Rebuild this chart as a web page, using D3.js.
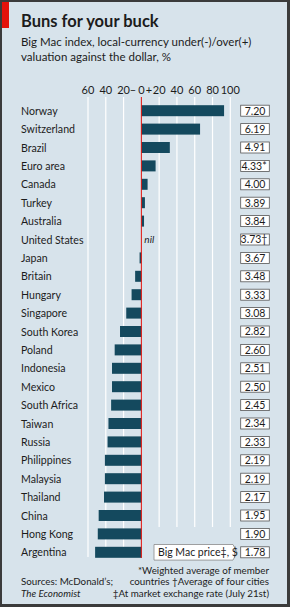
<!DOCTYPE html>
<html>
<head>
<meta charset="utf-8">
<script src="https://cdn.jsdelivr.net/npm/d3@7"></script>
<style>
  html, body { margin: 0; padding: 0; background: #fff; }
  svg { display: block; font-family: Lato, "Open Sans", sans-serif; }
</style>
</head>
<body>
<div id="chart"></div>
<script>
// Big Mac index, July 2011
const countries = ["Norway", "Switzerland", "Brazil", "Euro area", "Canada", "Turkey", "Australia",
    "United States", "Japan", "Britain", "Hungary", "Singapore", "South Korea", "Poland", "Indonesia",
    "Mexico", "South Africa", "Taiwan", "Russia", "Philippines", "Malaysia", "Thailand", "China",
    "Hong Kong", "Argentina"];
const valuation = [93, 66, 32, 16, 7, 4, 3, 0, -2, -7, -11, -17, -24, -30, -33, -33, -34, -37, -38,
    -41, -41, -42, -48, -49, -52];
const prices = ["7.20", "6.19", "4.91", "4.33*", "4.00", "3.89", "3.84", "3.73†", "3.67", "3.48", "3.33",
    "3.08", "2.82", "2.60", "2.51", "2.50", "2.45", "2.34", "2.33", "2.19", "2.19", "2.17", "1.95",
    "1.90", "1.78"];
const ticks = [-60, -40, -20, 0, 20, 40, 60, 80, 100];

const W = 290, H = 607;
const ink = "#1c1c1c";

const svg = d3.select("#chart").append("svg")
    .attr("width", W)
    .attr("height", H);

// frame
svg.append("rect").attr("width", W).attr("height", H).attr("fill", "#3b3b3b");
svg.append("rect").attr("x", 2).attr("y", 2).attr("width", W - 5).attr("height", H - 5)
    .attr("fill", "#d7e3eb");
svg.append("rect").attr("x", 2).attr("y", 2).attr("width", 7).attr("height", 26)
    .attr("fill", "#e3120b");

svg.append("text")
    .attr("x", 21).attr("y", 27)
    .attr("font-size", "16.5px").attr("font-weight", "bold")
    .attr("fill", ink)
    .text("Buns for your buck");

svg.append("text")
    .attr("x", 21).attr("y", 46)
    .attr("font-size", "11.5px").attr("fill", ink)
    .selectAll("tspan")
    .data(["Big Mac index, local-currency under(-)/over(+)", "valuation against the dollar, %"])
    .join("tspan")
    .attr("x", 21)
    .attr("dy", (d, i) => i ? 14.5 : 0)
    .text(d => d);

const x = d3.scaleLinear().domain([-60, 100]).range([88, 230.3]);
const y = d3.scaleBand().domain(countries).range([101.5, 561.5]);
const barH = 11;

// gridlines
svg.selectAll(".grid")
    .data(ticks.filter(t => t !== 0))
    .join("line")
    .attr("class", "grid")
    .attr("x1", d => x(d)).attr("x2", d => x(d))
    .attr("y1", 97)
    .attr("y2", d => d > 0 ? 527 : 557)
    .attr("stroke", "#fff")
    .attr("stroke-width", 1.2);

// tick labels
svg.append("g")
    .attr("font-size", "11px").attr("fill", ink).attr("text-anchor", "middle")
    .selectAll("text")
    .data(ticks)
    .join("text")
    .attr("x", d => x(d))
    .attr("y", 94)
    .text(d => Math.abs(d));
svg.append("text").attr("x", x(0) - 8.5).attr("y", 94).attr("font-size", "11px")
    .attr("text-anchor", "middle").attr("fill", ink).text("–");
svg.append("text").attr("x", x(0) + 7.5).attr("y", 94).attr("font-size", "11px")
    .attr("text-anchor", "middle").attr("fill", ink).text("+");

const rows = countries.map((c, i) => ({ c, v: valuation[i], p: prices[i] }));

// bars
svg.selectAll(".bar")
    .data(rows.filter(d => d.v !== 0))
    .join("rect")
    .attr("class", "bar")
    .attr("x", d => x(Math.min(0, d.v)))
    .attr("y", d => y(d.c) + (y.bandwidth() - barH) / 2)
    .attr("width", d => Math.abs(x(d.v) - x(0)))
    .attr("height", barH)
    .attr("fill", "#14495e");

// zero line
svg.append("line")
    .attr("x1", x(0)).attr("x2", x(0))
    .attr("y1", 97).attr("y2", 558)
    .attr("stroke", "#e3120b").attr("stroke-width", 1);

svg.append("text")
    .attr("x", x(0) + 3).attr("y", y("United States") + y.bandwidth() / 2 + 3.5)
    .attr("font-size", "10px").attr("font-style", "italic").attr("fill", ink)
    .text("nil");

// country labels
svg.append("g")
    .attr("font-size", "10.6px").attr("fill", ink)
    .selectAll("text")
    .data(rows)
    .join("text")
    .attr("x", 21)
    .attr("y", d => y(d.c) + y.bandwidth() / 2 + 4)
    .text(d => d.c);

// price boxes
const pg = svg.append("g");
pg.selectAll("rect")
    .data(rows)
    .join("rect")
    .attr("x", 240.7)
    .attr("y", d => y(d.c) + (y.bandwidth() - barH) / 2)
    .attr("width", 28.6)
    .attr("height", barH)
    .attr("fill", "#fff")
    .attr("stroke", "#555")
    .attr("stroke-width", 0.8);
pg.selectAll("text")
    .data(rows)
    .join("text")
    .attr("x", d => d.p.length > 4 ? 254 : 255)
    .attr("y", d => y(d.c) + y.bandwidth() / 2 + 3.8)
    .attr("text-anchor", "middle")
    .attr("font-size", "10.5px")
    .attr("fill", ink)
    .text(d => d.p);

// "Big Mac price" callout
const cy = y("Argentina") + y.bandwidth() / 2;
svg.append("path")
    .attr("d", `M154,${cy - 7.8}H233L237,${cy}L233,${cy + 7.8}H154Z`)
    .attr("fill", "#fff")
    .attr("stroke", "#8a8a8a")
    .attr("stroke-width", 0.8);
svg.append("text")
    .attr("x", 158).attr("y", cy + 4)
    .attr("font-size", "10.5px").attr("fill", ink)
    .text("Big Mac price‡, $");

// footnotes
const foot = svg.append("g").attr("font-size", "9.8px").attr("fill", ink);
foot.append("text").attr("x", 21).attr("y", 585).text("Sources: McDonald’s;");
foot.append("text").attr("x", 21).attr("y", 596.5).attr("font-style", "italic").text("The Economist");
foot.selectAll(".note")
    .data(["*Weighted average of member", "countries   †Average of four cities", "‡At market exchange rate (July 21st)"])
    .join("text")
    .attr("class", "note")
    .attr("x", 269)
    .attr("y", (d, i) => 574 + i * 11.3)
    .attr("text-anchor", "end")
    .text(d => d);
</script>
</body>
</html>
